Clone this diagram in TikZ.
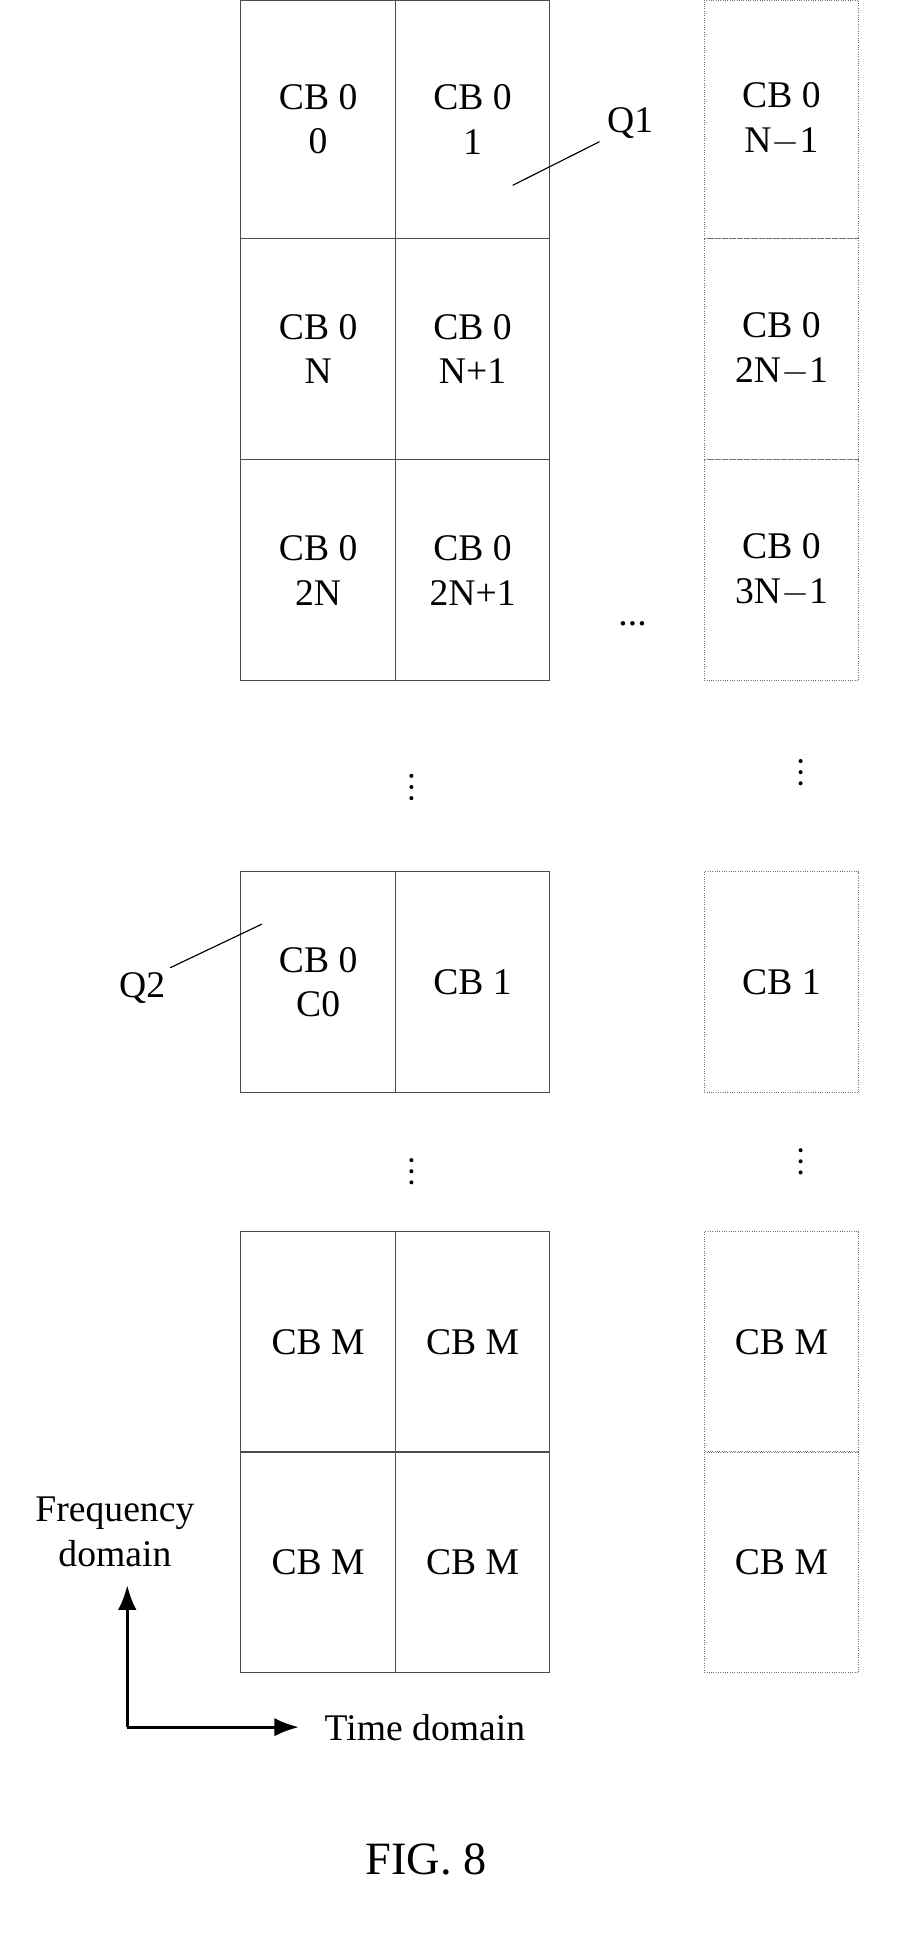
\documentclass[tikz,border=0pt]{standalone}
\usepackage{fontspec}
\setmainfont{Liberation Serif}
\usetikzlibrary{arrows.meta}
\usetikzlibrary{positioning}

\tikzset{
    cellbox/.style = {draw = black!70, line width = 0.6pt, minimum width = 3.75cm, minimum height = 5.37cm, inner sep = 0pt, align = center, font = \fontsize{26}{31}\selectfont},
    farbox/.style = {cellbox, draw = black!55, densely dotted},
    toprow/.style = {minimum height = 5.79cm},
    lbl/.style = {font = \fontsize{26}{31}\selectfont, align = center},
    vdot/.style = {fill = black, radius = 1.4pt}
}

\begin{document}
\begin{tikzpicture}[x = 0.03cm, y = -0.03cm]

    \useasboundingbox (0,0) rectangle (728,1580);

    % top block
    \node[cellbox, toprow] (A00) at (257.5,96.5) {CB 0\\0};
    \node[cellbox, toprow] (A01) at (382.5,96.5) {CB 0\\1};
    \node[farbox, toprow]  (A0N) at (632.5,96.5) {CB 0\\N$-$1};
    \node[cellbox] (A10) at (257.5,282.5) {CB 0\\N};
    \node[cellbox] (A11) at (382.5,282.5) {CB 0\\N+1};
    \node[farbox]  (A1N) at (632.5,282.5) {CB 0\\2N$-$1};
    \node[cellbox] (A20) at (257.5,461.5) {CB 0\\2N};
    \node[cellbox] (A21) at (382.5,461.5) {CB 0\\2N+1};
    \node[farbox]  (A2N) at (632.5,461.5) {CB 0\\3N$-$1};

    \node[lbl] (dotsH) at (512,505) {...};
    \foreach \X/\Y in {333/637, 648/625, 333/948, 648/940}
        \foreach \D in {-9,0,9}
            \fill[vdot] (\X,\Y+\D) circle;

    % middle block
    \node[cellbox] (B00) at (257.5,795) {CB 0\\C0};
    \node[cellbox] (B01) at (382.5,795) {CB 1};
    \node[farbox]  (B0N) at (632.5,795) {CB 1};

    % bottom block
    \node[cellbox] (C00) at (257.5,1086.5) {CB M};
    \node[cellbox] (C01) at (382.5,1086.5) {CB M};
    \node[farbox]  (C0N) at (632.5,1086.5) {CB M};
    \node[cellbox] (C10) at (257.5,1264.5) {CB M};
    \node[cellbox] (C11) at (382.5,1264.5) {CB M};
    \node[farbox]  (C1N) at (632.5,1264.5) {CB M};

    % labels
    \node[lbl] (Q1) at (510,100) {Q1};
    \coordinate (Q1end) at (415,150);
    \draw[line width = 0.8pt] (Q1.south west) ++(-2,-2) -- (Q1end);
    \node[lbl] (Q2) at (115,800) {Q2};
    \coordinate (Q2end) at (212,748);
    \draw[line width = 0.8pt] (Q2.north east) -- (Q2end);

    % axes
    \node[lbl] (Freq) at (93,1240) {Frequency\\domain};
    \coordinate (Orig) at (103,1398);
    \coordinate (Up) at (103,1283);
    \coordinate (Right) at (242,1398);
    \draw[line width = 2.2pt, -{Latex[length = 6mm, width = 4.5mm]}] (Orig) -- (Up);
    \draw[line width = 2.2pt, -{Latex[length = 6mm, width = 4.5mm]}] (Orig) -- (Right);
    \node[lbl, right = 0.5cm of Right] (Time) {Time domain};

    \node[font = \fontsize{32}{38}\selectfont] (Fig) at (345,1505) {FIG. 8};

\end{tikzpicture}
\end{document}
